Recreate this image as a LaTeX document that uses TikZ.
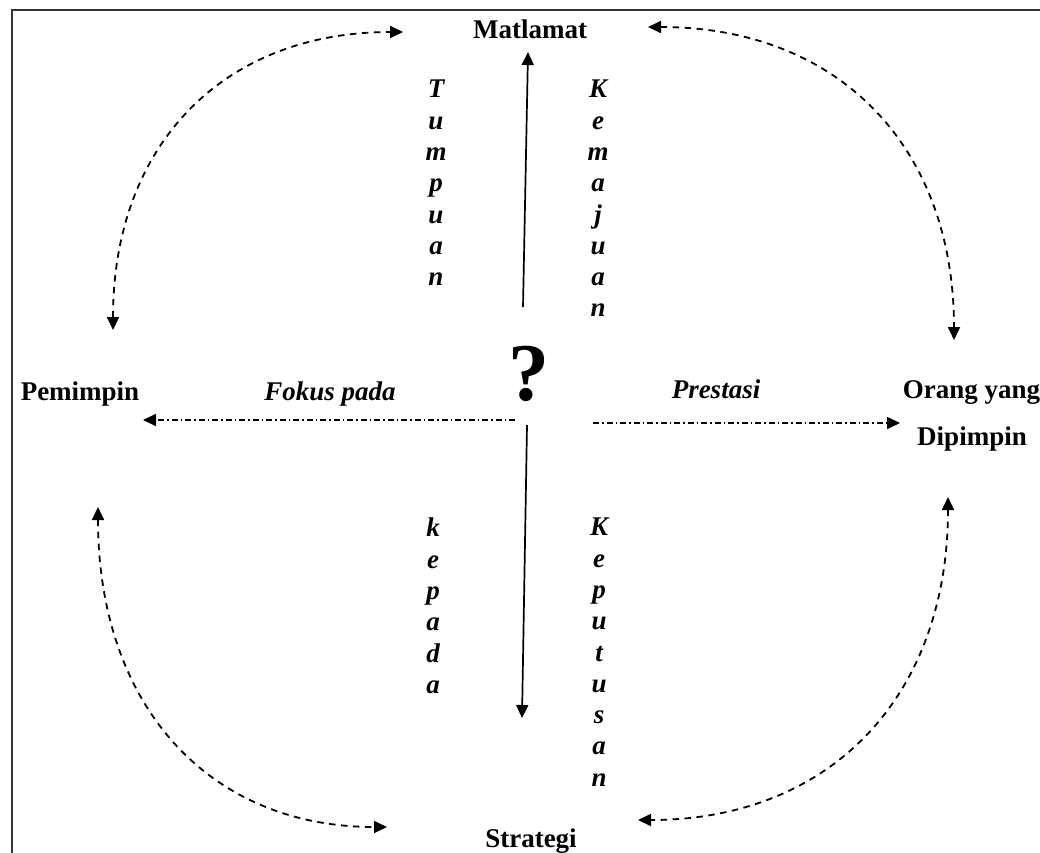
\documentclass[tikz,border=0pt]{standalone}
\usepackage{fontspec}
\setmainfont{Liberation Serif}
\usetikzlibrary{arrows.meta}
\begin{document}
\begin{tikzpicture}[x=1pt,y=-1pt,
  lbl/.style={font=\fontsize{27}{31.3}\selectfont\bfseries, inner sep=0pt, anchor=base},
  ilbl/.style={font=\fontsize{27}{31.3}\selectfont\bfseries\itshape, inner sep=0pt, anchor=base},
  vword/.style={font=\fontsize{27}{31.3}\selectfont\bfseries\itshape, inner sep=0pt, align=center, anchor=north},
  tip/.style={-{Triangle[length=13pt,width=12pt]}},
  bitip/.style={{Triangle[length=13pt,width=12pt]}-{Triangle[length=13pt,width=12pt]}},
  solidarrow/.style={tip, line width=1.7pt},
  dasharc/.style={bitip, line width=1.8pt, dash pattern=on 6.5pt off 5.5pt},
  dotdash/.style={tip, line width=1.6pt, dash pattern=on 6pt off 3pt on 1.5pt off 3pt}]
\useasboundingbox (0,0) rectangle (1040,852);
\clip (0,0) rectangle (1040,852);
\fill[white] (0,0) rectangle (1040,852);
% frame (partly outside the picture)
\draw[line width=1.6pt, color=black!80] (12,880) -- (12,10) -- (1070,10);

% main labels
\node[lbl] (mat) at (530,38) {Matlamat};
\node[lbl] (str) at (531,847) {Strategi};
\node[lbl] (pem) at (80,400) {Pemimpin};
\node[lbl] (ory) at (971.5,398) {Orang yang};
\node[lbl] (dip) at (972,445) {Dipimpin};
\node[font=\fontsize{82}{90}\selectfont\bfseries, inner sep=0pt, anchor=base] (q) at (529,400) {?};

% italic labels
\node[ilbl] (fok) at (330,400) {Fokus pada};
\node[ilbl] (pre) at (716,398) {Prestasi};
\node[vword] (tum) at (436,80) {T\\u\\m\\p\\u\\a\\n};
\node[vword] (kem) at (598,80) {K\\e\\m\\a\\j\\u\\a\\n};
\node[vword] (kep) at (433,518) {k\\e\\p\\a\\d\\a};
\node[vword] (kpt) at (599,518) {K\\e\\p\\u\\t\\u\\s\\a\\n};

% connector end points
\coordinate (upS) at (523,307);
\coordinate (upE) at (528,52);
\coordinate (dnS) at (527,425);
\coordinate (dnE) at (522,718);
\coordinate (lS) at (515,420);
\coordinate (lE) at (143,420);
\coordinate (rS) at (593,423);
\coordinate (rE) at (900,423);
\coordinate (tlA) at (113,330);
\coordinate (tlB) at (403,32);
\coordinate (trA) at (648,27);
\coordinate (trB) at (954,340);
\coordinate (blA) at (98,507);
\coordinate (blB) at (387,827);
\coordinate (brA) at (948,497);
\coordinate (brB) at (638,820);

% straight arrows
\draw[solidarrow] (upS) -- (upE);
\draw[solidarrow] (dnS) -- (dnE);
\draw[dotdash] (lS) -- (lE);
\draw[dotdash] (rS) -- (rE);

% curved dashed arrows
\draw[dasharc] (tlA) .. controls (113,145) and (223,32) .. (tlB);
\draw[dasharc] (trA) .. controls (838,27) and (954,146) .. (trB);
\draw[dasharc] (blA) .. controls (98,705) and (208,827) .. (blB);
\draw[dasharc] (brA) .. controls (948,697) and (830,820) .. (brB);
\end{tikzpicture}
\end{document}
